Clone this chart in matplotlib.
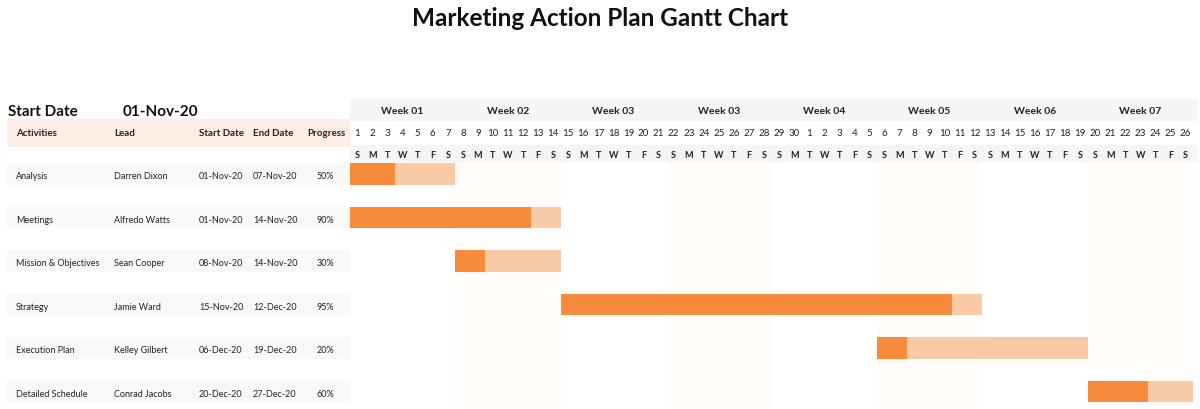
import pandas as pd
import numpy as np
import matplotlib.pyplot as plt
from matplotlib.transforms import blended_transform_factory

plt.rcParams["font.family"] = ["Lato", "DejaVu Sans"]

# data
activities = ["Analysis", "Meetings", "Mission & Objectives", "Strategy", "Execution Plan", "Detailed Schedule"]
leads = ["Darren Dixon", "Alfredo Watts", "Sean Cooper", "Jamie Ward", "Kelley Gilbert", "Conrad Jacobs"]
starts = ["01-Nov-20", "01-Nov-20", "08-Nov-20", "15-Nov-20", "06-Dec-20", "20-Dec-20"]
ends = ["07-Nov-20", "14-Nov-20", "14-Nov-20", "12-Dec-20", "19-Dec-20", "27-Dec-20"]
progress = [50, 90, 30, 95, 20, 60]
week_labels = ["Week 01", "Week 02", "Week 03", "Week 03", "Week 04", "Week 05", "Week 06", "Week 07"]
chart_start = "01-Nov-20"
n_days = 56

DARK = "#f68b3c"
LIGHT = "#f9caa6"
PEACH = "#fdeee5"
GRAY = "#f5f5f5"
TXT = "#222222"

W, H = 1200, 410
fig = plt.figure(figsize=(12, 4.1), dpi=100)
ax = fig.add_axes([0, 0, 1, 1])

# x: days from chart start; gantt grid runs from px 350 to 1193
px0, px1 = 350, 1193
ppd = (px1 - px0) / n_days
ax.set_xlim(-px0 / ppd, (W - px0) / ppd)
# y: rows, row 0 centred at px 175, spacing 43.5 px
row0, rsp = 175, 43.5
ax.set_ylim((H - row0) / rsp, (0 - row0) / rsp)
ax.axis("off")

def ypx(p):
    return (p - row0) / rsp

tr = blended_transform_factory(ax.transAxes, ax.transData)  # x in px/1200, y in data

t0 = pd.to_datetime(chart_start, format="%d-%b-%y")
days = pd.date_range(t0, periods=n_days)
s_idx = [(pd.to_datetime(s, format="%d-%b-%y") - t0).days for s in starts]
e_idx = [(pd.to_datetime(e, format="%d-%b-%y") - t0).days + 1 for e in ends]

# faint alternating week columns
for w in range(1, len(week_labels), 2):
    ax.axvspan(w * 7, w * 7 + 7, ymin=0, ymax=(H - 163) / H, color="#fffcfa", lw=0, zorder=0)

# header bands
ax.fill_between([0, n_days + 0.3], ypx(100), ypx(122), color=GRAY, lw=0, zorder=1)
ax.fill_between([0, n_days + 0.3], ypx(146), ypx(163), color=GRAY, lw=0, zorder=1)
ax.fill_between([-(px0 - 7) / ppd, 0], ypx(120), ypx(148), color=PEACH, lw=0, zorder=1)

for i, lab in enumerate(week_labels):
    ax.text(i * 7 + 3.5, ypx(112), lab, ha="center", va="center", fontsize=7.5,
            fontweight="bold", color=TXT)
for i, d in enumerate(days):
    ax.text(i + 0.5, ypx(134), str(d.day), ha="center", va="center", fontsize=7, color=TXT)
    ax.text(i + 0.5, ypx(156), d.strftime("%a")[0], ha="center", va="center", fontsize=6.5,
            fontweight="bold", color=TXT)

# table header
ax.text(8 / W, ypx(112), "Start Date", transform=tr, ha="left", va="center", fontsize=11,
        fontweight="bold", color="#111111")
ax.text(123 / W, ypx(112), chart_start, transform=tr, ha="left", va="center", fontsize=11,
        fontweight="bold", color="#111111")
hdr_x = [16, 114, 199, 253, 307]
for x, lab in zip(hdr_x, ["Activities", "Lead", "Start Date", "End Date", "Progress"]):
    ax.text(x / W, ypx(134), lab, transform=tr, ha="left", va="center", fontsize=7,
            fontweight="bold", color=TXT)

# rows
for r in range(len(activities)):
    yr = r + 0.04
    ax.fill_between([-(px0 - 7) / ppd, 0], r - 0.25, r + 0.25, color="#f8f8f8", lw=0, zorder=1)
    ax.text(16 / W, yr, activities[r], transform=tr, ha="left", va="center", fontsize=6.5, color=TXT)
    ax.text(114 / W, yr, leads[r], transform=tr, ha="left", va="center", fontsize=6.5, color=TXT)
    ax.text(199 / W, yr, starts[r], transform=tr, ha="left", va="center", fontsize=6.5, color=TXT)
    ax.text(253 / W, yr, ends[r], transform=tr, ha="left", va="center", fontsize=6.5, color=TXT)
    ax.text(325 / W, yr, f"{progress[r]}%", transform=tr, ha="center", va="center", fontsize=6.5, color=TXT)

    s = s_idx[r]
    e = min(e_idx[r], n_days)
    dur = e_idx[r] - s_idx[r]
    done = int(np.floor(progress[r] / 100 * dur))
    ax.barh(r, e - s, left=s, height=0.5, color=LIGHT, lw=0, zorder=2)
    ax.barh(r, done, left=s, height=0.5, color=DARK, lw=0, zorder=3)

fig.text(0.5, 1 - 18 / H, "Marketing Action Plan Gantt Chart", ha="center", va="center",
         fontsize=17.5, fontweight="bold", color="#111111")

fig.savefig("out.png", dpi=100)
